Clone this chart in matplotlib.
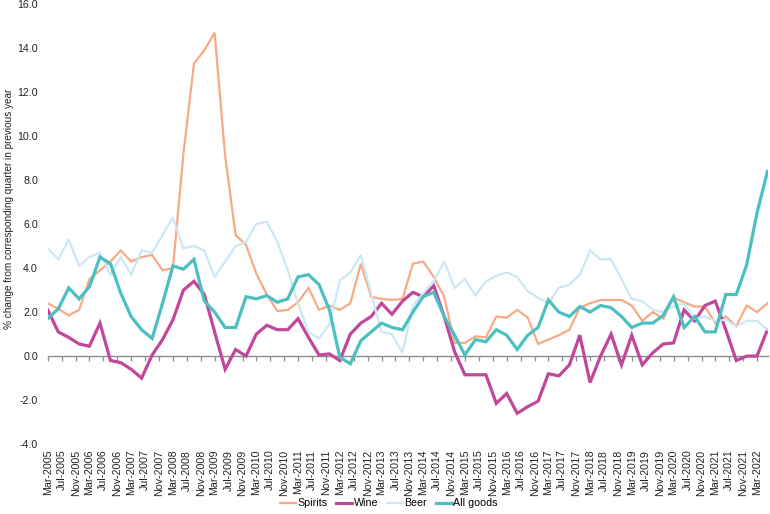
import numpy as np
import pandas as pd
import matplotlib
matplotlib.use('Agg')
import matplotlib.pyplot as plt
import matplotlib.dates as mdates

plt.rcParams['font.family'] = ['Liberation Sans', 'DejaVu Sans']

# quarterly observations, Mar-2005 .. Jun-2022
quarters = pd.date_range('2005-03-01', periods=70, freq='3MS')
tick_dates = pd.date_range('2005-03-01', '2022-03-01', freq='4MS')

spirits = [2.4, 2.15, 1.85, 2.1, 3.5, 3.9, 4.3, 4.8, 4.3, 4.5,
           4.6, 3.9, 4.0, 9.2, 13.3, 13.9, 14.7, 9.1, 5.5, 5.05,
           3.75, 2.8, 2.05, 2.1, 2.45, 3.1, 2.1, 2.3, 2.1, 2.4,
           4.2, 2.7, 2.6, 2.55, 2.6, 4.2, 4.3, 3.6, 2.7, 0.6,
           0.6, 0.9, 0.85, 1.8, 1.75, 2.1, 1.75, 0.55, 0.75, 0.95,
           1.2, 2.2, 2.4, 2.55, 2.55, 2.55, 2.3, 1.6, 2.0, 1.7,
           2.65, 2.45, 2.25, 2.25, 1.5, 1.8, 1.35, 2.3, 2.0, 2.4]

wine = [2.1, 1.1, 0.85, 0.55, 0.45, 1.5, -0.2, -0.3, -0.6, -1.0,
        0.05, 0.75, 1.65, 3.0, 3.4, 2.8, 1.1, -0.6, 0.3, 0.0,
        1.0, 1.4, 1.2, 1.2, 1.7, 0.85, 0.05, 0.1, -0.2, 1.0,
        1.5, 1.8, 2.4, 1.9, 2.5, 2.9, 2.7, 3.2, 1.8, 0.2,
        -0.85, -0.85, -0.85, -2.15, -1.7, -2.6, -2.3, -2.05, -0.8, -0.9,
        -0.4, 0.95, -1.2, 0.0, 1.0, -0.4, 0.95, -0.4, 0.15, 0.55,
        0.6, 2.1, 1.6, 2.3, 2.5, 1.2, -0.2, 0.0, 0.0, 1.2]

beer = [4.9, 4.4, 5.3, 4.1, 4.5, 4.7, 3.7, 4.5, 3.7, 4.8,
        4.7, 5.5, 6.3, 4.9, 5.0, 4.8, 3.6, 4.3, 5.0, 5.2,
        6.0, 6.1, 5.2, 3.9, 2.4, 1.1, 0.8, 1.45, 3.45, 3.8,
        4.6, 2.85, 1.1, 1.0, 0.15, 2.3, 2.85, 3.4, 4.3, 3.1,
        3.5, 2.75, 3.4, 3.65, 3.8, 3.6, 2.95, 2.65, 2.4, 3.1,
        3.25, 3.7, 4.8, 4.4, 4.4, 3.5, 2.6, 2.5, 2.1, 2.0,
        2.25, 2.4, 1.7, 1.8, 1.6, 1.65, 1.35, 1.6, 1.6, 1.2]

all_goods = [1.7, 2.15, 3.1, 2.6, 3.15, 4.5, 4.2, 2.85, 1.8, 1.2,
             0.8, 2.4, 4.1, 3.95, 4.4, 2.5, 2.0, 1.3, 1.3, 2.7,
             2.6, 2.75, 2.45, 2.6, 3.6, 3.7, 3.25, 2.1, -0.05, -0.35,
             0.7, 1.1, 1.5, 1.3, 1.2, 2.0, 2.7, 2.9, 1.8, 0.95,
             0.05, 0.75, 0.65, 1.2, 0.95, 0.3, 0.95, 1.3, 2.55, 2.0,
             1.8, 2.25, 2.0, 2.3, 2.2, 1.8, 1.3, 1.5, 1.5, 1.85,
             2.7, 1.3, 1.8, 1.1, 1.1, 2.8, 2.8, 4.15, 6.5, 8.4]

series = [('Spirits', spirits, '#F7AA86', 1.6),
          ('Wine', wine, '#C1479B', 2.3),
          ('Beer', beer, '#CBE8F3', 1.6),
          ('All goods', all_goods, '#4CBFC0', 2.3)]

x = mdates.date2num(quarters)
xt = mdates.date2num(tick_dates)

fig = plt.figure(figsize=(7.7, 5.14), dpi=100)
ax = fig.add_axes([0.062, 0.136, 0.935, 0.856])

for name, vals, col, lw in series:
    ax.plot(x, vals, color=col, lw=lw, label=name, solid_joinstyle='miter')

ax.set_ylim(-4, 16)
ax.set_yticks(np.arange(-4, 17, 2))
ax.set_yticklabels([f'{v:.1f}' for v in np.arange(-4, 17, 2)])
ax.set_xlim(x[0], x[-1] + 2)
ax.set_xticks(xt)
ax.set_xticklabels([d.strftime('%b-%Y') for d in tick_dates], rotation=90)
ax.tick_params(axis='both', length=0, labelsize=7.7, colors='#222222')
ax.tick_params(axis='x', pad=4)
ax.tick_params(axis='y', pad=7)
for s in ax.spines.values():
    s.set_visible(False)

ax.set_ylabel('% change from corresponding quarter in previous year',
              fontsize=7.2, color='#222222')
ax.yaxis.set_label_coords(-0.047, 0.534)

# zero line with its own tick marks (axis crosses at 0)
sec = ax.secondary_xaxis(0.2)
sec.set_xticks(xt)
sec.tick_params(axis='x', length=3.5, width=0.9, color='#8c8c8c',
                labelbottom=False, labeltop=False)
for s in sec.spines.values():
    s.set_color('#8c8c8c')
    s.set_linewidth(1.0)

fig.legend(loc='lower center', bbox_to_anchor=(0.505, -0.008), ncol=4,
           frameon=False, fontsize=7.7, handlelength=1.5,
           handletextpad=0.15, columnspacing=0.8)

fig.savefig('out.png', dpi=100)
